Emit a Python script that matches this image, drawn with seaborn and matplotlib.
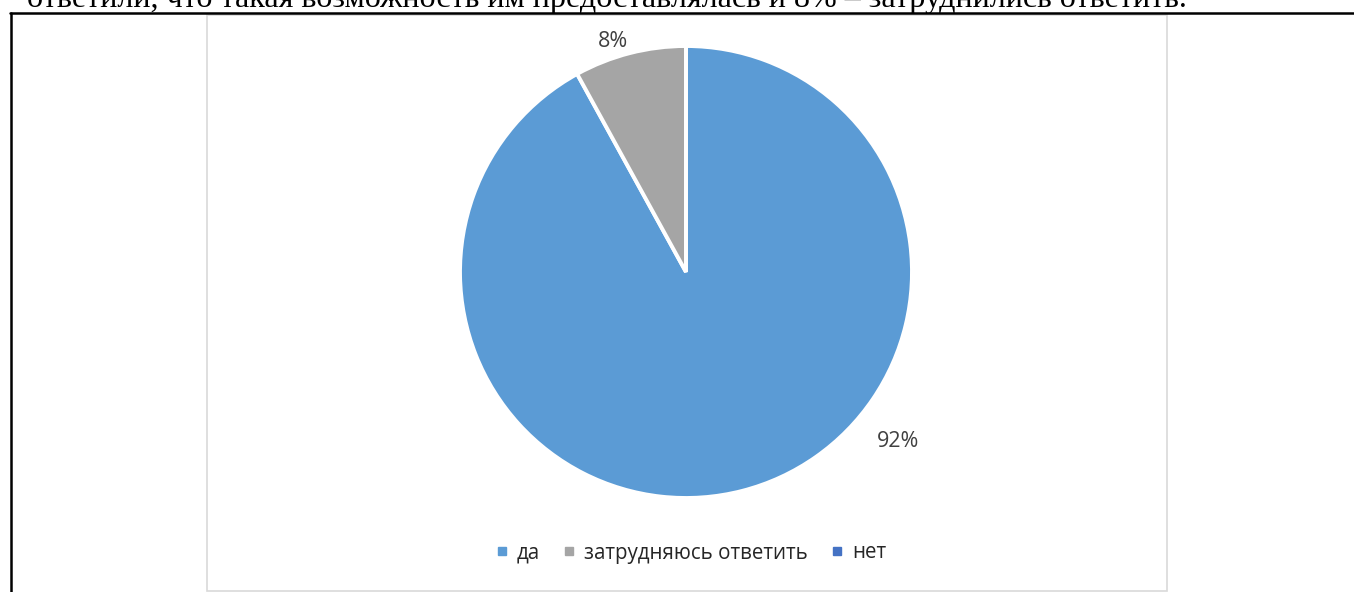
"""Круговая диаграмма: да / затрудняюсь ответить / нет."""
import matplotlib
matplotlib.use("Agg")
import matplotlib.pyplot as plt
import numpy as np
import seaborn as sns
from matplotlib import font_manager
from matplotlib.lines import Line2D
from matplotlib.patches import Rectangle

CATEGORIES = ["да", "затрудняюсь ответить", "нет"]
VALUES = [92, 8, 0]
PCT_LABELS = ["92%", "8%", ""]
COLORS = ["#5B9BD5", "#A5A5A5", "#4472C4"]
HEADER = "ответили, что такая возможность им предоставлялась и 8% – затруднились ответить."

W, H, DPI = 1354, 592, 100

sns.set_theme(style="white")
plt.rcParams["font.family"] = ["Open Sans", "DejaVu Sans"]

fig = plt.figure(figsize=(W / DPI, H / DPI), dpi=DPI)


def px(x, y):
    # пиксели картинки (от левого верхнего угла) -> координаты figure
    return x / W, 1 - y / H


# рамка области диаграммы
fig.add_artist(Rectangle(px(207, 591), 960 / W, 576 / H, transform=fig.transFigure,
                         fill=False, edgecolor="#D9D9D9", linewidth=1.2))
# чёрные линии страницы
fig.add_artist(Line2D([10 / W, 1], [1 - 12.5 / H] * 2, transform=fig.transFigure,
                      color="black", linewidth=1.8))
fig.add_artist(Line2D([11 / W] * 2, [0, 1 - 12.5 / H], transform=fig.transFigure,
                      color="black", linewidth=1.8))

# обрезанная строка текста сверху (в оригинале видна только нижняя часть)
serif_path = font_manager.findfont(font_manager.FontProperties(family="Liberation Serif"))
serif = font_manager.FontProperties(fname=serif_path, size=21)
hdr = fig.text(27 / W, 1 - 7 / H, HEADER, fontproperties=serif,
               color="black", va="baseline", ha="left")
fig.canvas.draw()
bb = hdr.get_window_extent()
serif.set_size(21 * (1182 - 27) / bb.width)
hdr.set_fontproperties(serif)

# пирог
cx, cy, r = 686, 272, 226
ax = fig.add_axes([(cx - r) / W, (H - cy - r) / H, 2 * r / W, 2 * r / H])
wedges, _ = ax.pie(VALUES, colors=COLORS, startangle=90, counterclock=False,
                   wedgeprops=dict(edgecolor="white", linewidth=2.8))
ax.set_xlim(-1, 1)
ax.set_ylim(-1, 1)
ax.set_aspect("equal")
ax.axis("off")

# подписи данных (как в Excel, не по середине сектора)
label_pos = {"92%": (-38.6, 1.2), "8%": (107.6, 1.068)}
for lab in PCT_LABELS:
    if not lab:
        continue
    ang, rr = label_pos[lab]
    t = np.deg2rad(ang)
    ax.text(rr * np.cos(t), rr * np.sin(t), lab, ha="center", va="center",
            fontsize=15.5, color="#404040", clip_on=False)

handles = [Line2D([], [], marker="s", linestyle="none", markersize=5.5,
                  markerfacecolor=c, markeredgecolor=c) for c in COLORS]
fig.legend(handles, CATEGORIES, loc="center", bbox_to_anchor=px(691, 553), ncol=3,
           frameon=False, fontsize=14.8, handlelength=0.6, handletextpad=0.45,
           columnspacing=1.1, labelcolor="#262626")

fig.savefig("out.png", dpi=DPI)
